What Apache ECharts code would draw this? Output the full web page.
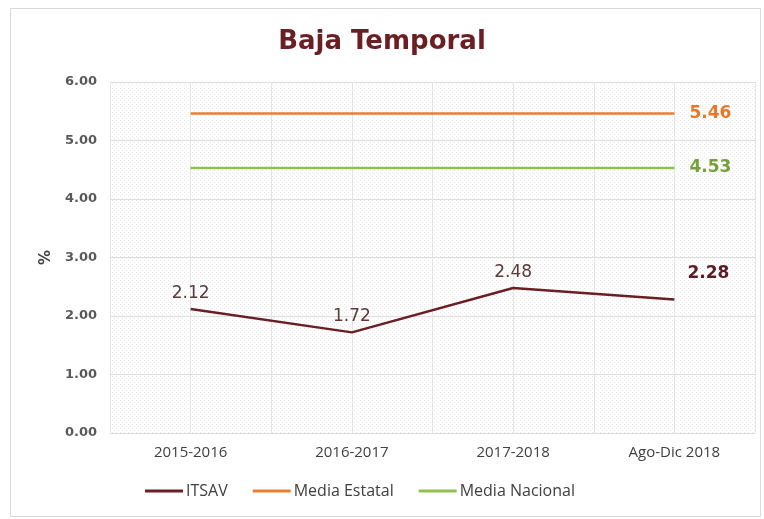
<!DOCTYPE html>
<html>
<head>
<meta charset="utf-8">
<script src="https://cdn.jsdelivr.net/npm/echarts@6/dist/echarts.min.js"></script>
<style>
  html, body { margin: 0; padding: 0; background: #ffffff; }
  #chart { width: 764px; height: 519px; }
</style>
</head>
<body>
<div id="chart"></div>
<script>
// datos
const periodos = ['2015-2016', '2016-2017', '2017-2018', 'Ago-Dic 2018'];
const itsav = [2.12, 1.72, 2.48, 2.28];
const mediaEstatal = [5.46, 5.46, 5.46, 5.46];
const mediaNacional = [4.53, 4.53, 4.53, 4.53];
const yTicks = [0, 1, 2, 3, 4, 5, 6];

// patron punteado del fondo del area de trazado
function dotPattern() {
  const c = document.createElement('canvas');
  c.width = 4; c.height = 4;
  const ctx = c.getContext('2d');
  ctx.fillStyle = '#ffffff';
  ctx.fillRect(0, 0, 4, 4);
  ctx.fillStyle = '#e9e9e9';
  ctx.fillRect(0, 0, 1, 1);
  ctx.fillRect(2, 2, 1, 1);
  return c;
}

const last = periodos.length - 1;

// etiqueta solo en el ultimo punto (a la derecha, en negrita)
function lastLabel(values, color, offsetY) {
  return values.map((v, i) => i === last ? {
    value: v,
    label: {
      show: true, position: 'right', distance: 15, offset: [0, offsetY],
      color: color, fontWeight: 'bold', fontSize: 17, fontFamily: 'DejaVu Sans',
      formatter: (p) => p.value.toFixed(2)
    }
  } : v);
}

const chart = echarts.init(document.getElementById('chart'));
const option = {
  animation: false,
  backgroundColor: '#ffffff',
  title: {
    text: 'Baja Temporal',
    left: 'center', top: 24,
    textStyle: { color: '#6b1f24', fontSize: 26, fontWeight: 'bold', fontFamily: 'DejaVu Sans' }
  },
  graphic: [{
    type: 'rect', left: 8, top: 6,
    shape: { width: 750, height: 508 },
    style: { fill: 'none', stroke: '#d9d9d9', lineWidth: 1 },
    silent: true
  }],
  legend: {
    bottom: 15, left: 140,
    itemWidth: 38, itemHeight: 3, itemGap: 25,
    icon: 'rect',
    textStyle: { color: '#404040', fontSize: 16, fontFamily: 'Open Sans', padding: [0, 0, 0, -2] },
    data: ['ITSAV', 'Media Estatal', 'Media Nacional']
  },
  grid: {
    left: 110, right: 9, top: 82, bottom: 86,
    show: true, borderWidth: 0,
    backgroundColor: { image: dotPattern(), repeat: 'repeat' }
  },
  xAxis: [{
    type: 'category', data: periodos, boundaryGap: true,
    axisLine: { show: false }, axisTick: { show: false },
    axisLabel: { color: '#404040', fontSize: 15, fontFamily: 'Open Sans', margin: 12 }
  }, {
    // eje oculto solo para las lineas verticales de la cuadricula
    type: 'value', min: 0, max: periodos.length * 2, interval: 1,
    show: true, position: 'bottom',
    axisLine: { show: false }, axisTick: { show: false }, axisLabel: { show: false },
    splitLine: { lineStyle: { color: '#e4e4e4', width: 1 } }
  }],
  yAxis: {
    type: 'value', min: yTicks[0], max: yTicks[yTicks.length - 1], interval: 1,
    name: '%', nameLocation: 'middle', nameGap: 56, nameRotate: 90,
    nameTextStyle: { color: '#404040', fontSize: 15, fontWeight: 'bold', fontFamily: 'DejaVu Sans' },
    axisLine: { show: false }, axisTick: { show: false },
    axisLabel: {
      color: '#595959', fontSize: 13, fontWeight: 'bold', fontFamily: 'DejaVu Sans', margin: 13,
      formatter: (v) => v.toFixed(2)
    },
    splitLine: { lineStyle: { color: '#dedede', width: 1 } }
  },
  series: [{
    name: 'ITSAV', type: 'line',
    data: itsav.map((v, i) => i === last ? {
      value: v,
      label: {
        show: true, position: 'right', distance: 13, offset: [0, -26],
        color: '#5c1d22', fontWeight: 'bold', fontSize: 17, fontFamily: 'DejaVu Sans',
        formatter: (p) => p.value.toFixed(2)
      }
    } : v),
    symbol: 'circle', symbolSize: 0, showSymbol: true,
    lineStyle: { color: '#6b1f24', width: 2.5 },
    itemStyle: { color: '#6b1f24' },
    label: {
      show: true, position: 'top', distance: 7,
      color: '#5a3a3a', fontSize: 17, fontFamily: 'DejaVu Sans',
      formatter: (p) => p.value.toFixed(2)
    },
    z: 5
  }, {
    name: 'Media Estatal', type: 'line',
    data: lastLabel(mediaEstatal, '#e8792a', 0),
    symbol: 'circle', symbolSize: 0, showSymbol: true,
    lineStyle: { color: '#ed7d31', width: 2.5 },
    itemStyle: { color: '#ed7d31' }
  }, {
    name: 'Media Nacional', type: 'line',
    data: lastLabel(mediaNacional, '#76a03c', 0),
    symbol: 'circle', symbolSize: 0, showSymbol: true,
    lineStyle: { color: '#92c050', width: 2.5 },
    itemStyle: { color: '#92c050' }
  }]
};
chart.setOption(option);
</script>
</body>
</html>
